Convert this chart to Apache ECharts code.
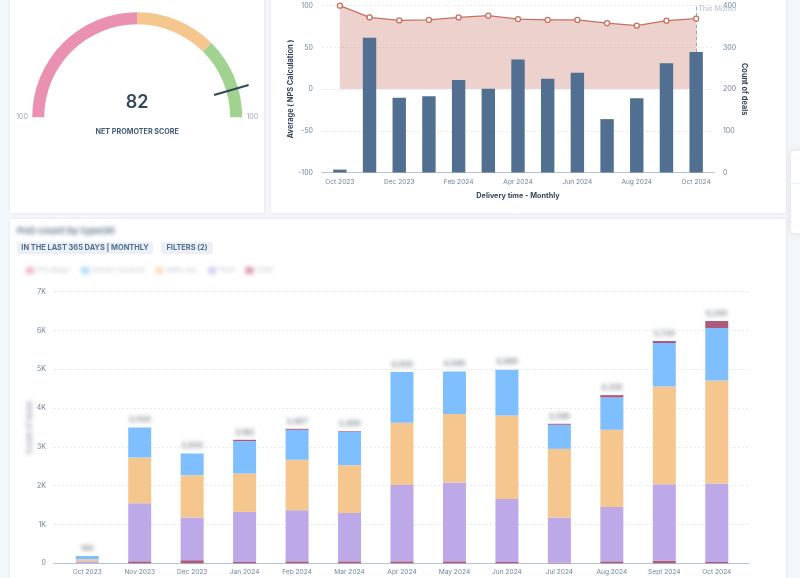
<!DOCTYPE html>
<html>
<head>
<meta charset="utf-8">
<title>NPS dashboard</title>
<script src="https://cdn.jsdelivr.net/npm/echarts@6/dist/echarts.min.js"></script>
<style>
  html, body { margin: 0; width: 800px; height: 578px; overflow: hidden; background: #f5f8fa; }
  .card { position: absolute; background: #fff; box-shadow: 0 0 3px rgba(45, 62, 80, .12); }
  .layer { position: absolute; left: 0; top: 0; width: 800px; height: 578px; }
  #blurred { filter: blur(1.9px); }
</style>
</head>
<body>
<div class="card" style="left:10px;top:-10px;width:254px;height:223px"></div>
<div class="card" style="left:271px;top:-10px;width:515px;height:223px"></div>
<div class="card" style="left:10px;top:219px;width:776px;height:380px"></div>
<div class="card" style="left:791px;top:151px;width:30px;height:82px;border-radius:4px;box-shadow:0 0 8px rgba(45,62,80,.15)">
  <div style="margin-top:32px;border-top:1px solid #eaf0f6"></div>
</div>
<div id="blurred" class="layer"></div>
<div id="chart" class="layer"></div>
<script>
const npsScore = 82;

const deliveryMonths = ['Oct 2023', 'Nov 2023', 'Dec 2023', 'Jan 2024', 'Feb 2024', 'Mar 2024', 'Apr 2024', 'May 2024', 'Jun 2024', 'Jul 2024', 'Aug 2024', 'Sep 2024', 'Oct 2024'];
const npsAverage = [100, 86, 82.4, 83, 86, 88, 84, 83, 83, 79, 76, 82, 84.4];
const dealCount = [7, 323, 179, 183, 222, 201, 271, 225, 239, 128, 178, 262, 289];

const stackMonths = ['Oct 2023', 'Nov 2023', 'Dec 2023', 'Jan 2024', 'Feb 2024', 'Mar 2024', 'Apr 2024', 'May 2024', 'Jun 2024', 'Jul 2024', 'Aug 2024', 'Sept 2024', 'Oct 2024'];
const otherBottom = [0, 50, 80, 35, 50, 50, 50, 50, 35, 15, 50, 70, 35];
const fleet = [50, 1498, 1098, 1290, 1318, 1249, 1971, 2032, 1625, 1163, 1404, 1969, 2021];
const salesOps = [55, 1179, 1093, 989, 1299, 1230, 1601, 1763, 2151, 1772, 1987, 2520, 2658];
const serviceInvoiced = [85, 773, 559, 834, 774, 860, 1307, 1101, 1178, 620, 834, 1118, 1350];
const onStatus = [0, 0, 0, 35, 26, 17, 0, 0, 0, 26, 60, 52, 181];
const stackTotals = [190, 3500, 2830, 3183, 3467, 3406, 4929, 4946, 4989, 3596, 4335, 5729, 6245];

const legendNames = ['Pre-delays', 'Service-invoiced', 'Sales-ops', 'Fleet', 'Other'];
const legendColors = ['#e58aa5', '#7fbfff', '#f5c78e', '#bda8e8', '#c4506e'];

const axisText = '#6f859c';
const darkText = '#33475b';
const gridLine = { show: true, lineStyle: { color: '#e6eaf0', type: [2, 2], width: 1 } };
const noAxis = { show: false };

// chips above the big chart
const chip = (x, w, label) => [
  { type: 'rect', z: 50, shape: { x: x, y: 242, width: w, height: 12, r: 2 }, style: { fill: '#eaf0f6' } },
  { type: 'text', z: 51, style: { x: x + w / 2, y: 248, text: label, align: 'center', verticalAlign: 'middle', fill: '#516f90', font: 'bold 7.4px Inter' } }
];

const myChart = echarts.init(document.getElementById('chart'), null, { renderer: 'canvas' });
myChart.setOption({
  animation: false,
  textStyle: { fontFamily: 'Inter' },
  graphic: [
    ...chip(17, 136, 'IN THE LAST 365 DAYS | MONTHLY'),
    ...chip(161, 52, 'FILTERS (2)'),
    // the right gauge label is cut off by its card in the original
    { type: 'rect', z: 60, shape: { x: 258, y: 108, width: 6, height: 18 }, style: { fill: '#fff' } }
  ],
  grid: [
    { left: 322, width: 392, top: 5.7, height: 166.8 },
    { left: 325, width: 386, top: 5.7, height: 166.8 },
    { left: 54, width: 695, top: 291.7, height: 271.6 },
    { left: 61, width: 682, top: 291.7, height: 271.6 }
  ],
  xAxis: [
    { gridIndex: 0, type: 'category', data: deliveryMonths, axisLine: { lineStyle: { color: '#b4c4d6' }, onZero: false }, axisTick: noAxis, axisLabel: noAxis },
    {
      gridIndex: 1, type: 'category', data: deliveryMonths, position: 'bottom',
      axisLine: { show: false, onZero: false }, axisTick: noAxis,
      axisLabel: { interval: 1, color: axisText, fontSize: 6.6, margin: 6 },
      name: 'Delivery time - Monthly', nameLocation: 'middle', nameGap: 20,
      nameTextStyle: { color: darkText, fontWeight: 'bold', fontSize: 7.3 }
    },
    { gridIndex: 2, type: 'category', data: stackMonths, axisLine: { lineStyle: { color: '#b4c4d6' } }, axisTick: noAxis, axisLabel: noAxis },
    {
      gridIndex: 3, type: 'category', data: stackMonths,
      axisLine: { show: false }, axisTick: noAxis,
      axisLabel: { interval: 0, color: axisText, fontSize: 6.6, margin: 5 }
    }
  ],
  yAxis: [
    {
      gridIndex: 0, type: 'value', min: -100, max: 100, interval: 50, position: 'left',
      axisLine: noAxis, axisTick: noAxis, splitLine: gridLine,
      axisLabel: { color: axisText, fontSize: 7, margin: 9 },
      name: 'Average ( NPS Calculation )', nameLocation: 'middle', nameGap: 26,
      nameTextStyle: { color: darkText, fontWeight: 'bold', fontSize: 7.4 }
    },
    {
      gridIndex: 0, type: 'value', min: 0, max: 400, interval: 100, position: 'right',
      axisLine: noAxis, axisTick: noAxis, splitLine: noAxis,
      axisLabel: { color: axisText, fontSize: 7, margin: 9 },
      name: 'Count of deals', nameLocation: 'middle', nameGap: 22, nameRotate: -90,
      nameTextStyle: { color: darkText, fontWeight: 'bold', fontSize: 7.4 }
    },
    { gridIndex: 1, type: 'value', min: -100, max: 100, show: false, splitLine: noAxis },
    { gridIndex: 1, type: 'value', min: 0, max: 400, show: false, splitLine: noAxis },
    {
      gridIndex: 2, type: 'value', min: 0, max: 7000, interval: 1000,
      axisLine: noAxis, axisTick: noAxis, splitLine: gridLine,
      axisLabel: { color: axisText, fontSize: 7, margin: 8, formatter: v => (v ? v / 1000 + 'K' : '0') }
    },
    { gridIndex: 3, type: 'value', min: 0, max: 7000, show: false, splitLine: noAxis }
  ],
  series: [
    {
      type: 'gauge', center: [137.2, 117.3], radius: 105, startAngle: 180, endAngle: 0,
      min: -100, max: 100, splitNumber: 1,
      axisLine: { lineStyle: { width: 12, color: [[0.5, '#ea90b1'], [0.75, '#f5c78e'], [1, '#a2d28f']] } },
      axisTick: noAxis, splitLine: noAxis,
      axisLabel: { distance: -36, align: 'center', color: '#9aa5b1', fontSize: 7, padding: [3, 0, 0, 0], formatter: () => '100' },
      pointer: { icon: 'rect', length: 36, width: 2, offsetCenter: [0, -80], itemStyle: { color: darkText } },
      anchor: noAxis,
      title: { offsetCenter: [0, 15], color: '#425b76', fontSize: 7.2, fontWeight: 'bold' },
      detail: { offsetCenter: [0, -14.6], color: darkText, fontSize: 18, fontWeight: 600, formatter: '{value}' },
      data: [{ value: npsScore, name: 'NET PROMOTER SCORE' }]
    },
    {
      name: 'Average ( NPS Calculation )', type: 'line', xAxisIndex: 1, yAxisIndex: 2, z: 1,
      data: npsAverage, symbol: 'circle', symbolSize: 5,
      itemStyle: { color: '#fff', borderColor: '#c8705f', borderWidth: 1.3 },
      lineStyle: { color: '#c8705f', width: 1.3 },
      areaStyle: { color: 'rgba(200,112,95,.32)', opacity: 1 },
      markLine: {
        silent: true, symbol: 'none', animation: false, z: 1,
        lineStyle: { color: '#99acc2', type: 'dashed', width: 1 },
        label: { formatter: 'This Month', position: 'end', align: 'left', verticalAlign: 'top', offset: [2, 5], color: '#b3bfce', fontSize: 7.2 },
        data: [{ xAxis: deliveryMonths[12] }]
      }
    },
    {
      name: 'Count of deals', type: 'bar', xAxisIndex: 1, yAxisIndex: 3, z: 2,
      data: dealCount, barWidth: 13.4, itemStyle: { color: '#516f90' }
    },
    ...[
      ['Other', otherBottom, '#ad5a7c'],
      ['Fleet', fleet, '#bda8e8'],
      ['Sales-ops', salesOps, '#f5c78e'],
      ['Service-invoiced', serviceInvoiced, '#7fbfff'],
      ['Pre-delays', onStatus, '#ad5a7c']
    ].map(([name, data, color]) => ({
      name, data, type: 'bar', stack: 'pods', xAxisIndex: 3, yAxisIndex: 5, barWidth: 23, itemStyle: { color }
    }))
  ]
});

// the title, legend, axis name and totals are blurred out in the original
const blurChart = echarts.init(document.getElementById('blurred'));
blurChart.setOption({
  animation: false,
  textStyle: { fontFamily: 'Inter' },
  graphic: [{ type: 'text', style: { x: 17, y: 226, text: 'PoD count by type(#)', fill: '#6d7f92', font: 'bold 9.5px Inter' } }],
  legend: {
    left: 26, top: 267, itemWidth: 8, itemHeight: 7, itemGap: 11, icon: 'rect', padding: 0,
    itemStyle: { opacity: 0.6 },
    data: legendNames, textStyle: { color: '#b9c0c8', fontSize: 6.5, padding: [0, 0, 0, -2] }
  },
  grid: { left: 61, width: 682, top: 291.7, height: 271.6 },
  xAxis: { type: 'category', data: stackMonths, show: false },
  yAxis: {
    type: 'value', min: 0, max: 7000, splitLine: noAxis, axisLine: noAxis, axisTick: noAxis, axisLabel: noAxis,
    name: 'Count of deals', nameLocation: 'middle', nameGap: 27,
    nameTextStyle: { color: '#a3adb8', fontWeight: 'bold', fontSize: 7.5 }
  },
  series: [
    ...legendNames.map((name, i) => ({ name, type: 'bar', data: [], itemStyle: { color: legendColors[i] } })),
    {
      type: 'line', data: stackTotals, symbol: 'circle', symbolSize: 1, lineStyle: { opacity: 0 },
      itemStyle: { color: 'transparent' },
      label: { show: true, position: 'top', distance: 3, color: '#8a8f96', fontSize: 7.5, fontWeight: 'bold', formatter: p => p.value.toLocaleString('en-US') }
    }
  ]
});
</script>
</body>
</html>
